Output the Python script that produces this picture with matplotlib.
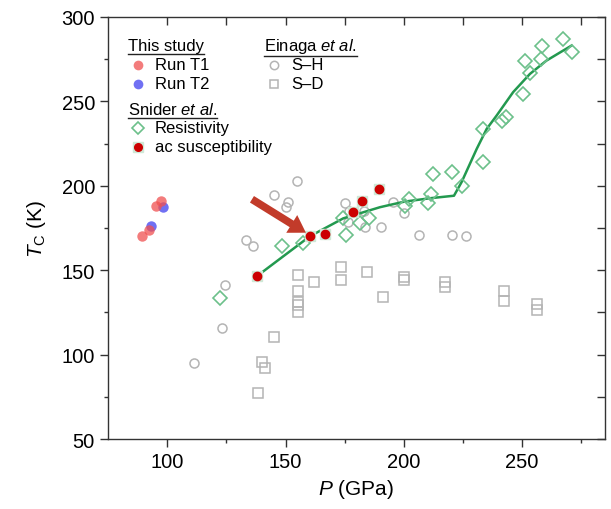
import matplotlib
matplotlib.use("Agg")
import matplotlib.pyplot as plt
import numpy as np

plt.rcParams['font.family'] = ['Liberation Sans', 'DejaVu Sans']
plt.rcParams['mathtext.fontset'] = 'custom'
plt.rcParams['mathtext.rm'] = 'Liberation Sans'
plt.rcParams['mathtext.it'] = 'Liberation Sans:italic'

# This study
t1_p = [89.2, 92.4, 95.3, 97.3]
t1_t = [170.1, 173.8, 187.9, 191.0]
t2_p = [93.3, 98.4]
t2_t = [176.0, 187.6]

# Snider et al.
res_p = [122.3, 148.4, 157.3, 174.4, 175.4, 181.5, 185.4, 200.5, 202.3, 210.3,
         211.3, 212.2, 220.3, 224.4, 233.4, 233.6, 241.3, 243.4, 250.2, 251.2,
         253.3, 258.2, 258.5, 267.4, 271.3]
res_t = [133.4, 164.5, 166.1, 180.9, 171.0, 178.0, 180.7, 187.9, 192.2, 189.8,
         195.1, 207.0, 208.0, 199.9, 214.1, 233.6, 238.6, 240.6, 254.4, 273.8,
         266.8, 275.1, 283.0, 287.0, 279.1]
ac_p = [138.1, 160.3, 166.5, 178.4, 182.3, 189.4]
ac_t = [146.7, 170.1, 171.4, 184.7, 191.2, 197.9]

# guide line through Snider data
fit_p = [138.1, 149.0, 160.3, 174.4, 189.9, 200.2, 211.0, 221.2, 224.4, 230.8,
         235.0, 239.2, 246.2, 253.3, 260.3, 270.9]
fit_t = [146.7, 158.2, 170.1, 180.7, 187.3, 190.6, 192.6, 194.1, 202.1, 221.8,
         233.6, 241.5, 255.4, 266.2, 274.1, 283.0]

# Einaga et al.
sh_p = [154.7, 145.1, 151.2, 150.2, 133.2, 136.4, 124.4, 123.3, 111.2, 175.1,
        177.0, 183.3, 176.3, 183.6, 190.3, 195.4, 200.2, 206.5, 220.2, 226.2]
sh_t = [203.0, 194.7, 190.2, 187.6, 168.1, 164.2, 141.2, 115.9, 95.2, 189.8,
        185.2, 185.2, 178.4, 175.4, 175.8, 190.2, 183.9, 170.9, 170.9, 170.1]
sd_p = [155.4, 162.2, 173.3, 173.3, 155.4, 155.4, 155.4, 155.4, 145.3, 140.2,
        141.3, 138.2, 184.3, 200.2, 200.2, 191.3, 217.4, 217.4, 242.3, 242.3,
        256.2, 256.2]
sd_t = [147.2, 143.2, 152.1, 144.2, 137.9, 131.0, 129.4, 125.1, 110.2, 95.4,
        92.1, 77.1, 148.8, 145.8, 144.2, 134.3, 142.8, 139.9, 137.9, 131.9,
        130.0, 126.4]

arrow_tail = (135.8, 192.0)
arrow_head = (158.6, 172.2)

grey = '#b4b4b4'
green_line = '#23994f'
green_mk = '#6cc08b'

fig = plt.figure(figsize=(6.11, 5.10), dpi=100)
ax = fig.add_axes([0.177, 0.137, 0.813, 0.828])

ax.plot(sh_p, sh_t, 'o', ms=6.5, mfc='none', mec=grey, mew=1.1)
ax.plot(sd_p, sd_t, 's', ms=6.5, mfc='none', mec=grey, mew=1.1)
ax.plot(fit_p, fit_t, '-', color=green_line, lw=1.8)
ax.plot(res_p, res_t, 'D', ms=7.5, mfc='none', mec=green_mk, mew=1.2)
ax.plot(ac_p, ac_t, 's', ms=7.5, mfc='#cfe8d6', mec='#cfe8d6')
ax.plot(ac_p, ac_t, 'o', ms=6, color='#cc0000')
ax.plot(t1_p, t1_t, 'o', ms=7.5, color='#f05050', alpha=0.75, mec='none')
ax.plot(t2_p, t2_t, 'o', ms=7.5, color='#4040f0', alpha=0.75, mec='none', zorder=1.9)

ax.annotate('', xy=arrow_head, xytext=arrow_tail,
            arrowprops=dict(arrowstyle='simple,head_width=1.5,head_length=1.2,tail_width=0.55',
                            color='#c23b2a', lw=0, shrinkA=0, shrinkB=0))

ax.set_xlim(75, 285)
ax.set_ylim(50, 300)
ax.set_xticks([100, 150, 200, 250])
ax.set_xticks([125, 175, 225, 275], minor=True)
ax.set_yticks([50, 100, 150, 200, 250, 300])
ax.set_yticks([75, 125, 175, 225, 275], minor=True)
ax.tick_params(which='both', labelsize=14.5, direction='out', width=1.0, color='#333333')
ax.tick_params(which='major', length=6)
ax.tick_params(which='minor', length=3)
for spine in ax.spines.values():
    spine.set_linewidth(1.0)
    spine.set_color('#333333')

# inward ticks on top and right
top = ax.secondary_xaxis('top')
top.set_xticks([100, 125, 150, 175, 200, 225, 250, 275])
top.tick_params(direction='in', length=6, width=1.0, labeltop=False, color='#333333')
top.spines['top'].set_visible(False)
right = ax.secondary_yaxis('right')
right.set_yticks([50, 75, 100, 125, 150, 175, 200, 225, 250, 275, 300])
right.tick_params(direction='in', length=6, width=1.0, labelright=False, color='#333333')
right.spines['right'].set_visible(False)

ax.set_xlabel('$P$ (GPa)', fontsize=15, labelpad=4)
ax.set_ylabel('$T_\\mathrm{C}$ (K)', fontsize=15, labelpad=10)

# legend, drawn by hand in axes coords
def ax_xy(px, py):
    return ((px - 108) / (605 - 108), (440 - py) / (440 - 18))

leg_fs = 12
headers = [('This study', 128, 47), ('Snider $\\it{et\\ al.}$', 128, 110),
           ('Einaga $\\it{et\\ al.}$', 264, 47)]
head_texts = []
for txt, px, py in headers:
    x, y = ax_xy(px, py)
    head_texts.append(ax.text(x, y, txt, transform=ax.transAxes, fontsize=leg_fs,
                              va='center', ha='left'))

entries = [
    ('Run T1', 138, 66, dict(marker='o', ms=7, color='#f05050', alpha=0.75, mec='none')),
    ('Run T2', 138, 85, dict(marker='o', ms=7, color='#4040f0', alpha=0.75, mec='none')),
    ('Resistivity', 138, 129, dict(marker='D', ms=6.5, mfc='none', mec=green_mk, mew=1.2)),
    ('ac susceptibility', 138, 148, dict(marker='o', ms=5.5, color='#cc0000')),
    ('S\u2013H', 274, 66, dict(marker='o', ms=6, mfc='none', mec=grey, mew=1.1)),
    ('S\u2013D', 274, 85, dict(marker='s', ms=6, mfc='none', mec=grey, mew=1.1)),
]
for txt, px, py, kw in entries:
    x, y = ax_xy(px, py)
    if txt == 'ac susceptibility':
        ax.plot([x], [y], 's', ms=7, mfc='#cfe8d6', mec='#cfe8d6', transform=ax.transAxes)
    ax.plot([x], [y], transform=ax.transAxes, linestyle='none', **kw)
    x2, _ = ax_xy(px + 17, py)
    ax.text(x2, y, txt, transform=ax.transAxes, fontsize=leg_fs, va='center', ha='left')

fig.canvas.draw()
renderer = fig.canvas.get_renderer()
inv = ax.transAxes.inverted()
for t in head_texts:
    bb = t.get_window_extent(renderer)
    (x0, y0), (x1, _) = inv.transform([(bb.x0, bb.y0), (bb.x1, bb.y1)])
    ax.plot([x0, x1], [y0 - 0.002, y0 - 0.002], color='#222222', lw=1.0,
            transform=ax.transAxes, clip_on=False)

fig.savefig('out.png', dpi=100)
